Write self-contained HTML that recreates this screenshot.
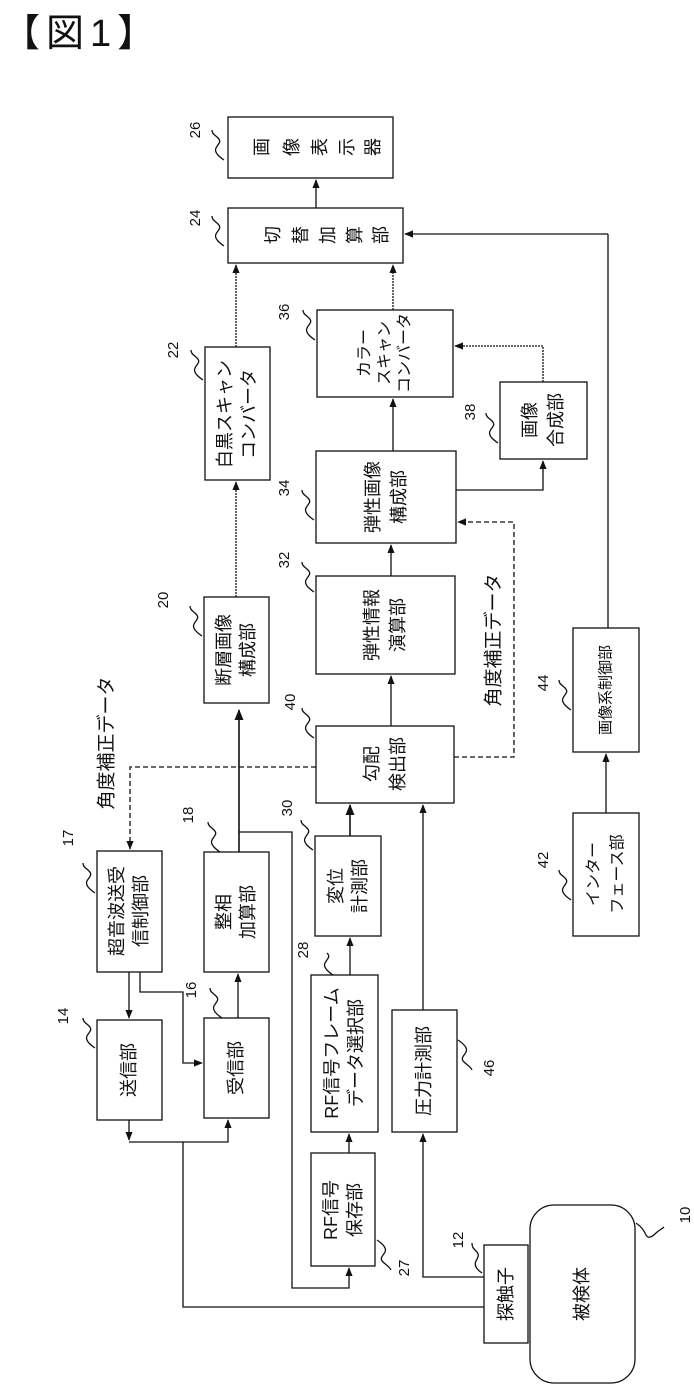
<!DOCTYPE html>
<html><head><meta charset="utf-8"><style>
html,body{margin:0;padding:0;background:#fff}
svg{display:block}
text{font-family:"Liberation Sans","Noto Sans CJK JP",sans-serif;fill:#111}
</style></head><body>
<svg width="694" height="1385" viewBox="0 0 694 1385" xmlns="http://www.w3.org/2000/svg">
<defs>
<marker id="a" viewBox="0 0 10 10" refX="9" refY="5" markerWidth="7" markerHeight="7" orient="auto"><path d="M0,1 L10,5 L0,9 z" fill="#111"/></marker>
</defs>
<text x="2" y="46" font-size="38" letter-spacing="6">【図1】</text>
<g fill="none" stroke="#111" stroke-width="1.3">
<rect x="228" y="117" width="165" height="61"/>
<rect x="228" y="208" width="175" height="55"/>
<rect x="317" y="310" width="136" height="87"/>
<rect x="205" y="347" width="65" height="133"/>
<rect x="500" y="382" width="87" height="77"/>
<rect x="316" y="451" width="140" height="92"/>
<rect x="316" y="576" width="139" height="98"/>
<rect x="204" y="597" width="65" height="106"/>
<rect x="316" y="726" width="138" height="77"/>
<rect x="573" y="628" width="66" height="124"/>
<rect x="573" y="813" width="66" height="123"/>
<rect x="97" y="851" width="65" height="121"/>
<rect x="204" y="852" width="65" height="120"/>
<rect x="315" y="836" width="66" height="100"/>
<rect x="97" y="1020" width="65" height="100"/>
<rect x="204" y="1018" width="65" height="100"/>
<rect x="311" y="975" width="67" height="157"/>
<rect x="311" y="1153" width="64" height="113"/>
<rect x="392" y="1010" width="65" height="122"/>
<rect x="484" y="1245" width="44" height="98"/>
<rect x="530" y="1205" width="105" height="178" rx="24"/>

<line x1="316" y1="208" x2="316" y2="180" marker-end="url(#a)"/>
<line x1="236" y1="347" x2="236" y2="265" marker-end="url(#a)" stroke-dasharray="2 1"/>
<line x1="393" y1="310" x2="393" y2="265" marker-end="url(#a)" stroke-dasharray="2 1"/>
<line x1="608" y1="628" x2="608" y2="234"/>
<line x1="440" y1="234" x2="405" y2="234" marker-end="url(#a)"/>
<line x1="608" y1="234" x2="440" y2="234"/>
<polyline points="543,382 543,346 455,346" marker-end="url(#a)" stroke-dasharray="2 1"/>
<line x1="393" y1="451" x2="393" y2="399" marker-end="url(#a)"/>
<polyline points="456,490 543,490 543,461" marker-end="url(#a)"/>
<polyline points="454,757 514,757 514,522 458,522" marker-end="url(#a)" stroke-dasharray="5 3"/>
<line x1="391" y1="576" x2="391" y2="545" marker-end="url(#a)"/>
<line x1="391" y1="726" x2="391" y2="676" marker-end="url(#a)"/>
<line x1="236" y1="597" x2="236" y2="482" marker-end="url(#a)" stroke-dasharray="2 1"/>
<line x1="239" y1="852" x2="239" y2="710" marker-end="url(#a)" stroke-width="1.6"/>
<polyline points="316,767 130,767 130,849" marker-end="url(#a)" stroke-dasharray="5 3"/>
<line x1="606" y1="813" x2="606" y2="754" marker-end="url(#a)"/>
<line x1="350" y1="836" x2="350" y2="805" marker-end="url(#a)" stroke-width="1.6"/>
<line x1="423" y1="1010" x2="423" y2="805" marker-end="url(#a)"/>
<polyline points="239,832 292,832 292,1288 349,1288 349,1268" marker-end="url(#a)"/>
<line x1="350" y1="975" x2="350" y2="938" marker-end="url(#a)"/>
<line x1="349" y1="1153" x2="349" y2="1134" marker-end="url(#a)"/>
<line x1="129" y1="972" x2="129" y2="1018" marker-end="url(#a)"/>
<polyline points="140,972 140,992 183,992 183,1063 202,1063" marker-end="url(#a)"/>
<line x1="238" y1="1018" x2="238" y2="974" marker-end="url(#a)"/>
<line x1="129" y1="1120" x2="129" y2="1140" marker-end="url(#a)"/>
<polyline points="129,1142 228,1142 228,1120" marker-end="url(#a)"/>
<polyline points="183,1142 183,1307 484,1307"/>
<polyline points="484,1277 423,1277 423,1134" marker-end="url(#a)"/>

<path d="M224,160 c-6,-4 -10,-8 -8,-12 c2,-4 6,-6 2,-10 c-3,-3 -6,-4 -6,-8"/>
<path d="M224,246 c-6,-4 -10,-8 -8,-12 c2,-4 6,-6 2,-10 c-3,-3 -6,-4 -6,-8"/>
<path d="M315,340 c-6,-4 -10,-8 -8,-12 c2,-4 6,-6 2,-10 c-3,-3 -6,-4 -6,-8"/>
<path d="M203,380 c-6,-4 -10,-8 -8,-12 c2,-4 6,-6 2,-10 c-3,-3 -6,-4 -6,-8"/>
<path d="M498,443 c-6,-4 -10,-8 -8,-12 c2,-4 6,-6 2,-10 c-3,-3 -6,-4 -6,-8"/>
<path d="M314,520 c-6,-4 -10,-8 -8,-12 c2,-4 6,-6 2,-10 c-3,-3 -6,-4 -6,-8"/>
<path d="M314,592 c-6,-4 -10,-8 -8,-12 c2,-4 6,-6 2,-10 c-3,-3 -6,-4 -6,-8"/>
<path d="M202,636 c-6,-4 -10,-8 -8,-12 c2,-4 6,-6 2,-10 c-3,-3 -6,-4 -6,-8"/>
<path d="M314,738 c-6,-4 -10,-8 -8,-12 c2,-4 6,-6 2,-10 c-3,-3 -6,-4 -6,-8"/>
<path d="M571,710 c-6,-4 -10,-8 -8,-12 c2,-4 6,-6 2,-10 c-3,-3 -6,-4 -6,-8"/>
<path d="M95,893 c-6,-4 -10,-8 -8,-12 c2,-4 6,-6 2,-10 c-3,-3 -6,-4 -6,-8"/>
<path d="M220,852 c-6,-4 -10,-8 -8,-12 c2,-4 6,-6 2,-10 c-3,-3 -6,-4 -6,-8"/>
<path d="M313,850 c-6,-4 -10,-8 -8,-12 c2,-4 6,-6 2,-10 c-3,-3 -6,-4 -6,-8"/>
<path d="M571,900 c-6,-4 -10,-8 -8,-12 c2,-4 6,-6 2,-10 c-3,-3 -6,-4 -6,-8"/>
<path d="M95,1048 c-6,-4 -10,-8 -8,-12 c2,-4 6,-6 2,-10 c-3,-3 -6,-4 -6,-8"/>
<path d="M222,1018 c-6,-4 -10,-8 -8,-12 c2,-4 6,-6 2,-10 c-3,-3 -6,-4 -6,-8"/>
<path d="M333,975 c-6,-4 -10,-8 -8,-12 c2,-4 6,-6 2,-10"/>
<path d="M458,1040 c6,4 10,8 8,12 c-2,4 -6,6 -2,10 c3,3 6,4 8,8"/>
<path d="M377,1240 c6,4 10,8 8,12 c-2,4 -6,6 -2,10 c3,3 6,4 8,8"/>
<path d="M482,1273 c-6,-4 -8,-8 -6,-12 c2,-4 4,-6 0,-10 c-3,-3 -4,-4 -4,-8"/>
<path d="M636,1223 c6,4 8,8 10,12 c2,4 6,2 10,-2 c3,-3 6,-4 8,-6"/>
</g>
<g font-size="15">
<text transform="translate(200,130) rotate(-90)" text-anchor="middle">26</text>
<text transform="translate(200,218) rotate(-90)" text-anchor="middle">24</text>
<text transform="translate(289,312) rotate(-90)" text-anchor="middle">36</text>
<text transform="translate(178,350) rotate(-90)" text-anchor="middle">22</text>
<text transform="translate(475,412) rotate(-90)" text-anchor="middle">38</text>
<text transform="translate(289,488) rotate(-90)" text-anchor="middle">34</text>
<text transform="translate(289,560) rotate(-90)" text-anchor="middle">32</text>
<text transform="translate(168,600) rotate(-90)" text-anchor="middle">20</text>
<text transform="translate(295,702) rotate(-90)" text-anchor="middle">40</text>
<text transform="translate(548,683) rotate(-90)" text-anchor="middle">44</text>
<text transform="translate(73,838) rotate(-90)" text-anchor="middle">17</text>
<text transform="translate(193,815) rotate(-90)" text-anchor="middle">18</text>
<text transform="translate(292,808) rotate(-90)" text-anchor="middle">30</text>
<text transform="translate(548,860) rotate(-90)" text-anchor="middle">42</text>
<text transform="translate(196,990) rotate(-90)" text-anchor="middle">16</text>
<text transform="translate(68,1016) rotate(-90)" text-anchor="middle">14</text>
<text transform="translate(308,950) rotate(-90)" text-anchor="middle">28</text>
<text transform="translate(494,1068) rotate(-90)" text-anchor="middle">46</text>
<text transform="translate(409,1268) rotate(-90)" text-anchor="middle">27</text>
<text transform="translate(463,1240) rotate(-90)" text-anchor="middle">12</text>
<text transform="translate(690,1215) rotate(-90)" text-anchor="middle">10</text>
</g>
<g font-size="18" text-anchor="middle" dominant-baseline="central">
<text transform="translate(262,147) rotate(-90)">画</text>
<text transform="translate(292,147) rotate(-90)">像</text>
<text transform="translate(320,147) rotate(-90)">表</text>
<text transform="translate(347,147) rotate(-90)">示</text>
<text transform="translate(373,147) rotate(-90)">器</text>
<text transform="translate(273,235) rotate(-90)">切</text>
<text transform="translate(301,235) rotate(-90)">替</text>
<text transform="translate(328,235) rotate(-90)">加</text>
<text transform="translate(355,235) rotate(-90)">算</text>
<text transform="translate(381,235) rotate(-90)">部</text>
<g transform="translate(237,414) rotate(-90)"><text y="-12">白黒スキャン</text><text y="12">コンバータ</text></g>
<g transform="translate(385,353) rotate(-90)" font-size="16"><text y="-20">カラー</text><text y="0">スキャン</text><text y="20">コンバータ</text></g>
<g transform="translate(543,420) rotate(-90)"><text y="-13">画像</text><text y="13">合成部</text></g>
<g transform="translate(386,497) rotate(-90)"><text y="-13">弾性画像</text><text y="13">構成部</text></g>
<g transform="translate(236,650) rotate(-90)"><text y="-12">断層画像</text><text y="12">構成部</text></g>
<g transform="translate(385,625) rotate(-90)"><text y="-13">弾性情報</text><text y="13">演算部</text></g>
<g transform="translate(385,764) rotate(-90)"><text y="-13">勾配</text><text y="13">検出部</text></g>
<g transform="translate(606,690) rotate(-90)" font-size="15"><text>画像系制御部</text></g>
<g transform="translate(129,911) rotate(-90)"><text y="-12">超音波送受</text><text y="12">信制御部</text></g>
<g transform="translate(236,912) rotate(-90)"><text y="-12">整相</text><text y="12">加算部</text></g>
<g transform="translate(348,886) rotate(-90)"><text y="-12">変位</text><text y="12">計測部</text></g>
<g transform="translate(606,874) rotate(-90)" font-size="16"><text y="-12">インター</text><text y="12">フェース部</text></g>
<g transform="translate(129,1070) rotate(-90)"><text>送信部</text></g>
<g transform="translate(236,1068) rotate(-90)"><text>受信部</text></g>
<g transform="translate(344,1053) rotate(-90)"><text y="-12">RF信号フレーム</text><text y="12">データ選択部</text></g>
<g transform="translate(424,1071) rotate(-90)"><text>圧力計測部</text></g>
<g transform="translate(343,1210) rotate(-90)"><text y="-12">RF信号</text><text y="12">保存部</text></g>
<g transform="translate(506,1294) rotate(-90)"><text>探触子</text></g>
<g transform="translate(582,1294) rotate(-90)"><text>被検体</text></g>
<g transform="translate(107,743) rotate(-90)" font-size="19"><text>角度補正データ</text></g>
<g transform="translate(494,640) rotate(-90)" font-size="19"><text>角度補正データ</text></g>
</g>
</svg>
</body></html>
